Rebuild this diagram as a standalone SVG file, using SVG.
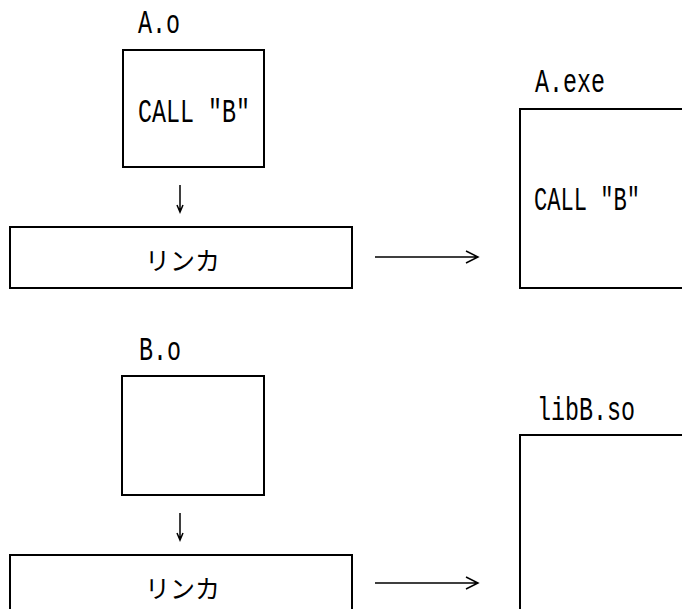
<svg xmlns="http://www.w3.org/2000/svg" width="682" height="609" viewBox="0 0 682 609">
<style>
.box{fill:#fff;stroke:#000;stroke-width:2}
.lat{font-family:"Liberation Mono",monospace;font-size:34px;fill:#000}
.jp{font-family:"Noto Sans CJK JP",sans-serif;font-size:25px;fill:#000}
.ln{fill:none;stroke:#000;stroke-width:1.5}
</style>
<rect width="682" height="609" fill="#fff"/>
<g id="A_o">
<text class="lat" x="138" y="33" textLength="42" lengthAdjust="spacingAndGlyphs">A.o</text>
<rect class="box" x="123" y="50" width="141" height="117"/>
<text class="lat" x="138" y="122" textLength="112" lengthAdjust="spacingAndGlyphs">CALL "B"</text>
</g>
<g id="linker1">
<rect class="box" x="10" y="227" width="342" height="61"/>
<text class="jp" x="145" y="270" textLength="75" lengthAdjust="spacingAndGlyphs">リンカ</text>
</g>
<g id="A_exe">
<text class="lat" x="535" y="92" textLength="70" lengthAdjust="spacingAndGlyphs">A.exe</text>
<rect class="box" x="520" y="109" width="200" height="179"/>
<text class="lat" x="534" y="210" textLength="106" lengthAdjust="spacingAndGlyphs">CALL "B"</text>
</g>
<g id="B_o">
<text class="lat" x="139" y="360" textLength="42" lengthAdjust="spacingAndGlyphs">B.o</text>
<rect class="box" x="122" y="376" width="142" height="119"/>
</g>
<g id="linker2">
<rect class="box" x="10" y="555" width="342" height="80"/>
<text class="jp" x="145" y="598" textLength="75" lengthAdjust="spacingAndGlyphs">リンカ</text>
</g>
<g id="libB_so">
<text class="lat" x="537" y="420" textLength="98" lengthAdjust="spacingAndGlyphs">libB.so</text>
<rect class="box" x="520" y="435" width="200" height="200"/>
</g>
<g id="connectors">
<path class="ln" d="M180 185V212M177 205L180 212L183 205"/>
<path class="ln" d="M180 513V540M177 533L180 540L183 533"/>
<path class="ln" d="M375 257H478M466 251L478 257L466 263"/>
<path class="ln" d="M375 583H478M466 577L478 583L466 589"/>
</g>
</svg>
